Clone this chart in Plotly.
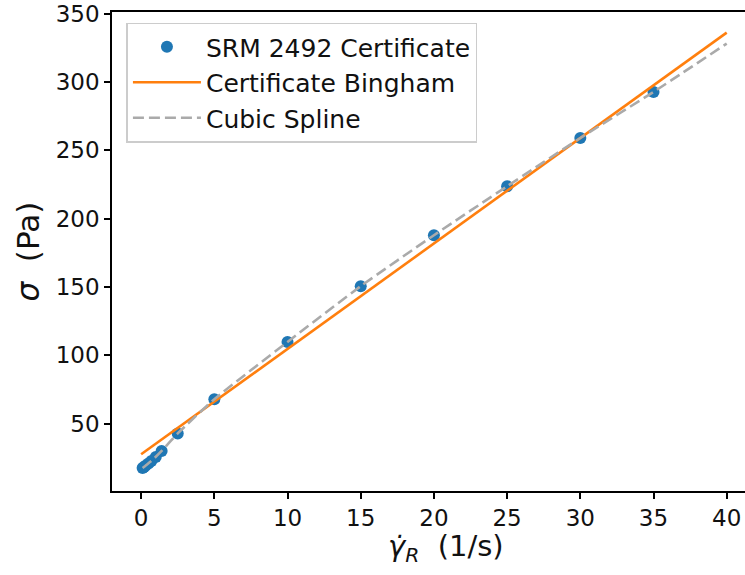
import plotly.graph_objects as go

# SRM 2492 certificate flow-curve points: shear rate (1/s) and shear stress (Pa)
shear_rate = [0.1, 0.2, 0.3, 0.5, 0.7, 1.0, 1.4, 2.5, 5, 10, 15, 20, 25, 30, 35]
shear_stress = [17.5, 18.3, 19.2, 20.8, 22.6, 25.5, 30.0, 42.8, 67.8, 109.7,
                150.5, 187.8, 223.6, 258.9, 292.6]

# Certificate Bingham model, drawn between its two end points
bingham_rate = [0, 40]
bingham_stress = [27.5, 336.0]

# Cubic spline through the certificate points, extended to 40 1/s
spline_rate = [0.1, 0.3, 0.7, 1.4, 2.5, 5, 10, 15, 20, 25, 30, 35, 40]
spline_stress = [17.5, 19.2, 22.6, 30.0, 42.8, 67.8, 109.7, 150.5, 187.8,
                 223.6, 258.9, 292.6, 328.0]

x_ticks = [0, 5, 10, 15, 20, 25, 30, 35, 40]
y_ticks = [50, 100, 150, 200, 250, 300, 350]

FONT = "DejaVu Sans"
INK = "#111111"
W, H = 745, 575
ML, MR, MT, MB = 112, 0, 12, 84

fig = go.Figure()
fig.add_trace(go.Scatter(
    x=shear_rate, y=shear_stress, mode="markers",
    marker=dict(color="#1f77b4", size=12),
    name="SRM 2492 Certificate"))
fig.add_trace(go.Scatter(
    x=bingham_rate, y=bingham_stress, mode="lines",
    line=dict(color="#ff7f0e", width=2.6),
    name="Certificate Bingham"))
fig.add_trace(go.Scatter(
    x=spline_rate, y=spline_stress, mode="lines",
    line=dict(color="#aaaaaa", width=2.6, dash="11px,5px", shape="spline", smoothing=0.6),
    name="Cubic Spline"))

fig.update_layout(
    width=W, height=H,
    margin=dict(l=ML, r=MR, t=MT, b=MB),
    paper_bgcolor="white", plot_bgcolor="white",
    font=dict(family=FONT, color=INK, size=23),
    showlegend=True,
    legend=dict(
        x=0.0228, y=0.978, xanchor="left", yanchor="top",
        bgcolor="white", bordercolor="#cccccc", borderwidth=1.5,
        font=dict(family=FONT, size=25, color=INK),
        itemwidth=68, tracegroupgap=0,
    ),
)

fig.update_xaxes(
    range=[-1.99, 41.25], tickvals=x_ticks, ticks="outside", ticklen=6, tickwidth=1.5,
    tickcolor="black", showline=True, linecolor="black", linewidth=1.6, mirror=True,
    showgrid=False, zeroline=False,
    tickfont=dict(family=FONT, size=23, color=INK),
)
fig.update_yaxes(
    range=[0.66, 351.1], tickvals=y_ticks, ticks="outside", ticklen=6, tickwidth=1.5,
    tickcolor="black", showline=True, linecolor="black", linewidth=1.6, mirror=False,
    showgrid=False, zeroline=False,
    tickfont=dict(family=FONT, size=23, color=INK),
)

# Axis titles placed as paper-anchored annotations
fig.add_annotation(
    text="<i>γ̇</i><sub><i>R</i></sub>  (1/s)", showarrow=False,
    xref="paper", yref="paper",
    x=(446 - ML) / (W - ML - MR), y=-(548 - (H - MB)) / (H - MT - MB),
    xanchor="center", yanchor="middle",
    font=dict(family=FONT, size=29, color=INK),
)
fig.add_annotation(
    text="<i>σ</i>  (Pa)", showarrow=False, textangle=-90,
    xref="paper", yref="paper",
    x=-(ML - 27) / (W - ML - MR), y=0.5,
    xanchor="center", yanchor="middle",
    font=dict(family=FONT, size=31, color=INK),
)

fig.write_html("out.html")
